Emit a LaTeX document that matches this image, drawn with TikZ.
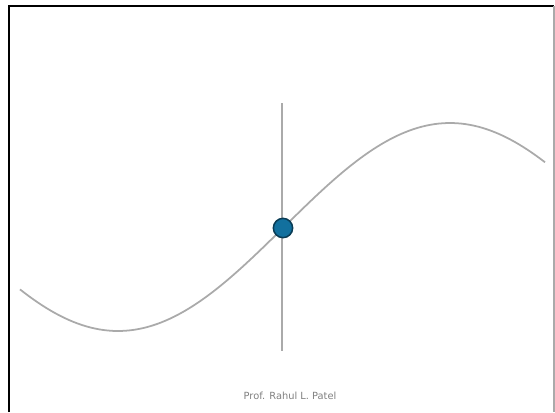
\documentclass[tikz,border=0pt]{standalone}
\usepackage{fontspec}
\setsansfont{DejaVu Sans}
\usetikzlibrary{positioning}
\definecolor{cDot}{RGB}{18,112,158}
\definecolor{cDotEdge}{RGB}{10,60,85}
\definecolor{cLine}{RGB}{170,170,170}
\tikzset{
	frame/.style   ={line width=0.9pt, draw=black},
	wave/.style    ={line width=1.5pt, draw=cLine},
	axisline/.style={line width=2pt, draw=cLine},
	dot/.style     ={circle, minimum size=0.58cm, inner sep=0pt, fill=cDot, draw=cDotEdge, line width=1.3pt},
	credit/.style  ={font=\sffamily\fontsize{8.4}{10}\selectfont, text=black!50},
}
\begin{document}
\begin{tikzpicture}[x=0.03cm, y=-0.03cm]
	\useasboundingbox (0,0) rectangle (555,412);
	% slide border
	\draw[frame] (9,412) -- (9,6) -- (554,6);
	\draw[line width=0.9pt, draw=cLine] (554,6) -- (554,412);
	% wave
	\draw[wave] plot[domain=20:545, samples=120] (\x, {227+104*cos(0.54217*(\x-118))});
	% vertical marker
	\coordinate (top) at (282,103);
	\coordinate (bot) at (282,351);
	\draw[axisline] (top) -- (bot);
	\node[dot] (p) at (283,228) {};
	\node[credit] (name) at (290,396) {Prof. Rahul L. Patel};
\end{tikzpicture}
\end{document}
